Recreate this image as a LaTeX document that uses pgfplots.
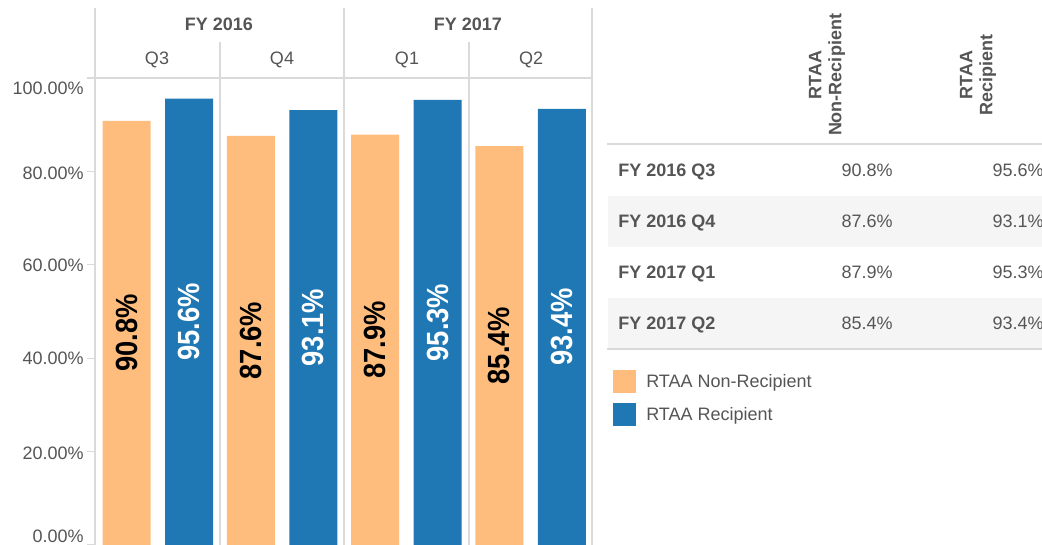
\documentclass[border=0pt]{standalone}
\usepackage{pgfplots}
\pgfplotsset{compat=1.18}
\usepackage{pgfplotstable}
\usepackage{fontspec}
\setmainfont{Liberation Sans}
\definecolor{orng}{HTML}{FFBD7D}
\definecolor{blu}{HTML}{1F77B4}
\definecolor{gline}{HTML}{DADADA}
\definecolor{txt}{HTML}{555555}
\definecolor{rowshade}{HTML}{F5F5F5}

\pgfplotstableread{
x a b
0 90.8 95.6
1 87.6 93.1
2 87.9 95.3
3 85.4 93.4
}\data

\newcommand\fs{\fontsize{13.5}{15}\selectfont}
\newcommand\bl{\fontsize{20.5}{22}\selectfont\bfseries}

\begin{document}
\begin{tikzpicture}
\begin{scope}[x=0.75pt,y=-0.75pt]
\clip (0,0) rectangle (1042,545);
% table shading and rules
\fill[rowshade] (608,196) rectangle (1042,247);
\fill[rowshade] (608,298) rectangle (1042,349);
\draw[gline, line width=1pt] (607,144) -- (1042,144);
\draw[gline, line width=1pt] (607,349) -- (1042,349);
% chart frame lines
\draw[gline, line width=1pt] (95,8) -- (95,545);
\draw[gline, line width=1pt] (344,8) -- (344,545);
\draw[gline, line width=1pt] (592,8) -- (592,545);
\draw[gline, line width=1pt] (220,42) -- (220,545);
\draw[gline, line width=1pt] (469,42) -- (469,545);
\draw[gline, line width=1pt] (95,78) -- (592,78);
% column headers
\node[font=\fs\bfseries, text=txt, anchor=base, inner sep=0] at (219,30.5) {FY 2016};
\node[font=\fs\bfseries, text=txt, anchor=base, inner sep=0] at (468,30.5) {FY 2017};
\node[font=\fs, text=txt, anchor=base, inner sep=0] at (157,64.5) {Q3};
\node[font=\fs, text=txt, anchor=base, inner sep=0] at (282,64.5) {Q4};
\node[font=\fs, text=txt, anchor=base, inner sep=0] at (407,64.5) {Q1};
\node[font=\fs, text=txt, anchor=base, inner sep=0] at (531,64.5) {Q2};
% y tick labels
\foreach \yy/\lab in {94.5/100.00, 179.5/80.00, 271.5/60.00, 364.5/40.00, 459.5/20.00, 542.5/0.00}
  \node[font=\fs, text=txt, anchor=base east, inner sep=0] at (84,\yy) {\lab\%};
% table header
\node[font=\fs\bfseries, text=txt, rotate=90, align=center, inner sep=0] at (827,75) {RTAA\\Non-Recipient};
\node[font=\fs\bfseries, text=txt, rotate=90, align=center, inner sep=0] at (978,75) {RTAA\\Recipient};
% table rows
\foreach \yy/\lab/\va/\vb in {176.5/FY 2016 Q3/90.8/95.6, 227.5/FY 2016 Q4/87.6/93.1, 278.5/FY 2017 Q1/87.9/95.3, 329.5/FY 2017 Q2/85.4/93.4}{
  \node[font=\fs\bfseries, text=txt, anchor=base west, inner sep=0] at (618,\yy) {\lab};
  \node[font=\fs, text=txt, anchor=base east, inner sep=0] at (893,\yy) {\va\%};
  \node[font=\fs, text=txt, anchor=base east, inner sep=0] at (1044,\yy) {\vb\%};
}
% legend
\fill[orng] (613,370) rectangle (636,393);
\fill[blu] (613,403) rectangle (636,426);
\node[font=\fs, text=txt, anchor=base west, inner sep=0] at (646,387.5) {RTAA Non-Recipient};
\node[font=\fs, text=txt, anchor=base west, inner sep=0] at (646,420.5) {RTAA Recipient};
\end{scope}

\begin{axis}[
  at={(71.25pt,-408.75pt)}, anchor=south west,
  scale only axis, width=372.75pt, height=350.25pt,
  xmin=-0.5, xmax=3.5, ymin=0, ymax=100,
  axis line style={draw=none},
  xtick=\empty,
  ytick={0,20,40,60,80,100}, yticklabels=\empty, ytick pos=left,
  tick align=outside, major tick length=6pt,
  ytick style={gline, line width=1pt},
  ybar, bar width=36pt, clip=false,
]
\addplot[fill=orng, draw=none, bar shift=-22.875pt] table[x=x,y=a]{\data};
\addplot[fill=blu, draw=none, bar shift=24pt] table[x=x,y=b]{\data};
\addplot[draw=none, fill=none, bar shift=-22.875pt, point meta=\thisrow{a},
  nodes near coords={\scalebox{1}[1.12]{\pgfmathprintnumber[fixed,fixed zerofill,precision=1,assume math mode=true]{\pgfplotspointmeta}\%}},
  every node near coord/.append style={rotate=90, anchor=center, font=\bl, text=black, inner sep=0}]
  table[x=x, y expr=\thisrow{a}/2]{\data};
\addplot[draw=none, fill=none, bar shift=24pt, point meta=\thisrow{b},
  nodes near coords={\scalebox{1}[1.12]{\pgfmathprintnumber[fixed,fixed zerofill,precision=1,assume math mode=true]{\pgfplotspointmeta}\%}},
  every node near coord/.append style={rotate=90, anchor=center, font=\bl, text=white, inner sep=0}]
  table[x=x, y expr=\thisrow{b}/2]{\data};
\end{axis}
\pgfresetboundingbox
\path[use as bounding box] (0,0) rectangle (781.5pt,-408.75pt);
\end{tikzpicture}
\end{document}
